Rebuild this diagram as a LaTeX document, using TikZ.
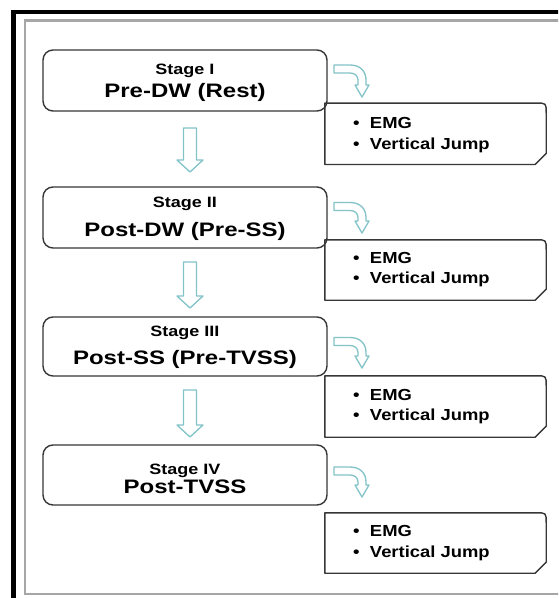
\documentclass[tikz,border=0pt]{standalone}
\usepackage{fontspec}
\setmainfont{Liberation Sans}
\usetikzlibrary{calc}
\definecolor{arrowteal}{RGB}{130,195,200}
\definecolor{boxline}{RGB}{55,55,55}
\newcommand\DownArrow[3]{\draw[blockarrow] (#1-6.5,#2) -- (#1+6.5,#2) -- (#1+6.5,#3-12) -- (#1+13,#3-12) -- (#1,#3) -- (#1-13,#3-12) -- (#1-6.5,#3-12) -- cycle;}
\newcommand\BendArrow[3]{\draw[blockarrow, shift={(#1,#2)}] (0,-4) -- (16,-4) .. controls (26,-4) and (32,2) .. (32,11) -- (32,#3-12) -- (35,#3-12) -- (28,#3) -- (21,#3-12) -- (24,#3-12) -- (24,11) .. controls (24,7) and (21,4) .. (16,4) -- (0,4) -- cycle;}
\newcommand\EmgOutline[1]{\draw[emgline] (#1.south west) -- (#1.north west) -- ($(#1.north east)+(-10,0)$) .. controls (#1.north east) .. ($(#1.north east)+(0,10)$) -- ($(#1.south east)+(0,-11)$) -- ($(#1.south east)+(-11,0)$) -- cycle;}
\begin{document}
\begin{tikzpicture}[x=1pt,y=-1pt,
 stagebox/.style={draw=boxline, line width=1.4pt, rounded corners=10pt, minimum width=284pt, inner sep=0pt},
 emgbox/.style={minimum width=221pt, inner sep=0pt},
 blockarrow/.style={draw=arrowteal, line width=1.3pt, fill=white, line join=round},
 emgline/.style={draw=boxline, line width=1.4pt, line join=round},
 stagelbl/.style={anchor=base, inner sep=0pt, font=\fontsize{15}{17}\selectfont\bfseries},
 stagebig/.style={anchor=base, inner sep=0pt, font=\fontsize{19.5}{22}\selectfont\bfseries},
 item/.style={anchor=base west, inner sep=0pt, font=\fontsize{16}{18}\selectfont\bfseries}]
\useasboundingbox (0,0) rectangle (558,598);
\clip (0,0) rectangle (558,598);
\fill[white] (0,0) rectangle (558,598);
% frames
\draw[line width=4.5pt] (13.5,12) rectangle (620,650);
\draw[gray!70, line width=2.5pt] (25,20.5) rectangle (590,594);

% stage boxes
\node[stagebox, minimum height=61pt] (s1) at (185,80.5) {};
\node[stagebox, minimum height=61pt] (s2) at (185,217.5) {};
\node[stagebox, minimum height=59pt] (s3) at (185,346.5) {};
\node[stagebox, minimum height=60pt] (s4) at (185,475) {};

\node[stagelbl] (s1a) at (185,74) {\scalebox{1.2}[1]{Stage I}};
\node[stagebig] (s1b) at (185,97.3) {\scalebox{1.23}[1]{Pre-DW (Rest)}};
\node[stagelbl] (s2a) at (185,207) {\scalebox{1.2}[1]{Stage II}};
\node[stagebig] (s2b) at (185,236.7) {\scalebox{1.23}[1]{Post-DW (Pre-SS)}};
\node[stagelbl] (s3a) at (185,336) {\scalebox{1.2}[1]{Stage III}};
\node[stagebig] (s3b) at (185,364) {\scalebox{1.23}[1]{Post-SS (Pre-TVSS)}};
\node[stagelbl] (s4a) at (185,474) {\scalebox{1.2}[1]{Stage IV}};
\node[stagebig] (s4b) at (185,493) {\scalebox{1.23}[1]{Post-TVSS}};

% measurement boxes
\node[emgbox, minimum height=61pt] (e1) at (435.5,133.75) {};
\node[emgbox, minimum height=60pt] (e2) at (435.5,270) {};
\node[emgbox, minimum height=61pt] (e3) at (435.5,406.5) {};
\node[emgbox, minimum height=60pt] (e4) at (435.5,543) {};
\EmgOutline{e1}
\EmgOutline{e2}
\EmgOutline{e3}
\EmgOutline{e4}

\node[item] (e1a) at (353,128) {\scalebox{1.15}[1]{•\hspace{9pt}EMG}};
\node[item] (e1b) at (353,149) {\scalebox{1.15}[1]{•\hspace{9pt}Vertical Jump}};
\node[item] (e2a) at (353,263) {\scalebox{1.15}[1]{•\hspace{9pt}EMG}};
\node[item] (e2b) at (353,283.5) {\scalebox{1.15}[1]{•\hspace{9pt}Vertical Jump}};
\node[item] (e3a) at (353,400) {\scalebox{1.15}[1]{•\hspace{9pt}EMG}};
\node[item] (e3b) at (353,420.5) {\scalebox{1.15}[1]{•\hspace{9pt}Vertical Jump}};
\node[item] (e4a) at (353,536.7) {\scalebox{1.15}[1]{•\hspace{9pt}EMG}};
\node[item] (e4b) at (353,557) {\scalebox{1.15}[1]{•\hspace{9pt}Vertical Jump}};

% block arrows between stages
\DownArrow{190}{128}{172}
\DownArrow{190}{262}{308}
\DownArrow{190}{390}{437}

% bent arrows to measurements
\BendArrow{334}{69}{28}
\BendArrow{334}{206.5}{26.5}
\BendArrow{334}{341.5}{26.5}
\BendArrow{334}{471}{26}
\end{tikzpicture}
\end{document}
